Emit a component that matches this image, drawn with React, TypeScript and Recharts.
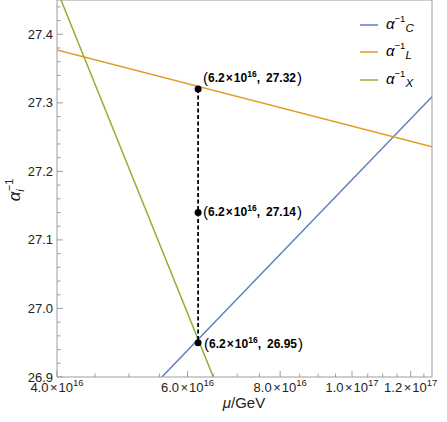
import React from 'react';
import { LineChart, Line, XAxis, YAxis, ReferenceLine, LabelList } from 'recharts';

// axis ranges (log x)
const muDomain: [number, number] = [4e16, 1.282e17];
const alphaDomain: [number, number] = [26.9, 27.45];

// inverse couplings, at the points where each line leaves the frame
const muC = [5.54e16, 1.282e17];
const alphaC = [26.9, 27.309];
const muL = [4e16, 1.282e17];
const alphaL = [27.377, 27.236];
const muX = [4.05e16, 6.5e16];
const alphaX = [27.45, 26.9];

// marked points on the dashed line
const muMarked = [6.2e16, 6.2e16, 6.2e16];
const alphaMarked = [27.32, 27.14, 26.95];
const markedMantissa = '6.2';
const markedExp = '16';

// ticks
const xMajor = [4e16, 6e16, 8e16, 1e17, 1.2e17];
const xMantissa = ['4.0', '6.0', '8.0', '1.0', '1.2'];
const xExp = ['16', '16', '16', '17', '17'];
const xMinor = [4.5e16, 5e16, 5.5e16, 6.5e16, 7e16, 7.5e16, 8.5e16, 9e16, 9.5e16, 1.05e17, 1.1e17, 1.15e17, 1.25e17];
const yMajor = [26.9, 27.0, 27.1, 27.2, 27.3, 27.4];
const yLabels = ['26.9', '27.0', '27.1', '27.2', '27.3', '27.4'];
const yMinor = [
  26.92, 26.94, 26.96, 26.98, 27.02, 27.04, 27.06, 27.08, 27.12, 27.14, 27.16, 27.18,
  27.22, 27.24, 27.26, 27.28, 27.32, 27.34, 27.36, 27.38, 27.42, 27.44,
];

const seriesNames = ['C', 'L', 'X'];
const colors = ['#5E81B5', '#E19C24', '#8FB032'];

const toRows = (mu: number[], a: number[]) => mu.map((m, i) => ({ mu: m, a: a[i] }));
const dataC = toRows(muC, alphaC);
const dataL = toRows(muL, alphaL);
const dataX = toRows(muX, alphaX);
const dataMarked = toRows(muMarked, alphaMarked);

const FONT = '"Liberation Sans", Arial, sans-serif';
const FRAME = '#9d9d9d';
const TEXT = '#222';

const findIdx = (arr: number[], v: number) => arr.findIndex((m) => Math.abs(m - v) / Math.abs(m) < 1e-9);

const XTick = (props: any) => {
  const { x, y, payload } = props;
  const i = findIdx(xMajor, payload.value);
  if (i < 0) return <line x1={x} x2={x} y1={y} y2={y - 3.5} stroke={FRAME} />;
  return (
    <g>
      <line x1={x} x2={x} y1={y} y2={y - 6} stroke={FRAME} />
      <text x={x} y={y + 15} textAnchor="middle" fontFamily={FONT} fontSize={13} fill={TEXT}>
        <tspan>{xMantissa[i]}</tspan>
        <tspan dx={1.5}>×</tspan>
        <tspan dx={1}>10</tspan>
        <tspan fontSize={9.5} dy={-6}>{xExp[i]}</tspan>
      </text>
    </g>
  );
};

const YTick = (props: any) => {
  const { x, y, payload } = props;
  const i = findIdx(yMajor, payload.value);
  if (i < 0) return <line x1={x} x2={x + 3.5} y1={y} y2={y} stroke={FRAME} />;
  return (
    <g>
      <line x1={x} x2={x + 6} y1={y} y2={y} stroke={FRAME} />
      <text x={x - 4} y={y + 4.5} textAnchor="end" fontFamily={FONT} fontSize={13} fill={TEXT}>
        {yLabels[i]}
      </text>
    </g>
  );
};

const labelShift = [
  [5, -7],
  [5, 4],
  [6, 5],
];

const PointLabel = (props: any) => {
  const { x, y, index, value } = props;
  const [dx, dy] = labelShift[index] || [4, 4];
  return (
    <text x={x + dx} y={y + dy} fontFamily={FONT} fontWeight="bold" fontSize={12} fill="#000">
      <tspan fontSize={15} fontWeight="normal" dy={1}>(</tspan>
      <tspan dy={-1}>{markedMantissa}</tspan>
      <tspan dx={1}>×</tspan>
      <tspan dx={1}>10</tspan>
      <tspan fontSize={8.5} dy={-5}>{markedExp}</tspan>
      <tspan dy={5}>,</tspan>
      <tspan dx={6}>{Number(value).toFixed(2)}</tspan>
      <tspan fontSize={15} fontWeight="normal" dx={1} dy={1}>)</tspan>
    </text>
  );
};

const YTitle = () => (
  <text
    x={20}
    y={190}
    transform="rotate(-90, 20, 190)"
    textAnchor="middle"
    fontFamily={FONT}
    fill={TEXT}
  >
    <tspan fontSize={17} fontStyle="italic">α</tspan>
    <tspan fontSize={11} fontStyle="italic" dy={4}>i</tspan>
    <tspan fontSize={11} dx={-2} dy={-11}>−1</tspan>
  </text>
);

const XTitle = () => (
  <text x={244} y={408} textAnchor="middle" fontFamily={FONT} fontSize={15} fill={TEXT}>
    <tspan fontStyle="italic">μ</tspan>
    <tspan>/GeV</tspan>
  </text>
);

const legendRows = [25, 52, 80];

const LegendOverlay = () => (
  <svg width={447} height={422} style={{ position: 'absolute', left: 0, top: 0, pointerEvents: 'none' }}>
    {seriesNames.map((n, i) => (
      <g key={n}>
        <line x1={360} x2={378} y1={legendRows[i]} y2={legendRows[i]} stroke={colors[i]} strokeWidth={1.5} />
        <text x={386} y={legendRows[i] + 4} fontFamily={FONT} fill="#000">
          <tspan fontSize={15} fontStyle="italic">α</tspan>
          <tspan fontSize={9.5} dy={-7}>−1</tspan>
          <tspan fontSize={11.5} fontStyle="italic" dy={10}>{n}</tspan>
        </text>
      </g>
    ))}
  </svg>
);

export default function App() {
  return (
    <div style={{ position: 'absolute', left: 0, top: 0, width: 447, height: 422, background: '#fff', fontFamily: FONT }}>
      <LineChart width={447} height={422} margin={{ top: 0, right: 15, bottom: 0, left: 0 }}>
        <XAxis
          dataKey="mu"
          type="number"
          scale="log"
          domain={muDomain}
          allowDataOverflow
          ticks={[...xMajor, ...xMinor]}
          interval={0}
          height={45}
          tickSize={0}
          tickMargin={0}
          tickLine={false}
          axisLine={{ stroke: FRAME }}
          tick={<XTick />}
          label={{ content: () => <XTitle /> }}
        />
        <YAxis
          type="number"
          domain={alphaDomain}
          allowDataOverflow
          ticks={[...yMajor, ...yMinor]}
          interval={0}
          width={57}
          tickSize={0}
          tickMargin={0}
          tickLine={false}
          axisLine={{ stroke: FRAME }}
          tick={<YTick />}
          label={{ content: () => <YTitle /> }}
        />
        <ReferenceLine y={alphaDomain[1]} stroke={FRAME} />
        <ReferenceLine x={muDomain[1]} stroke={FRAME} />
        <Line data={dataC} dataKey="a" stroke={colors[0]} strokeWidth={1.5} dot={false} isAnimationActive={false} />
        <Line data={dataL} dataKey="a" stroke={colors[1]} strokeWidth={1.5} dot={false} isAnimationActive={false} />
        <Line data={dataX} dataKey="a" stroke={colors[2]} strokeWidth={1.5} dot={false} isAnimationActive={false} />
        <Line
          data={dataMarked}
          dataKey="a"
          stroke="#000"
          strokeWidth={1.8}
          strokeDasharray="4 2.5"
          dot={{ r: 3.5, fill: '#000', stroke: 'none' }}
          isAnimationActive={false}
        >
          <LabelList dataKey="a" content={<PointLabel />} />
        </Line>
      </LineChart>
      <LegendOverlay />
    </div>
  );
}
